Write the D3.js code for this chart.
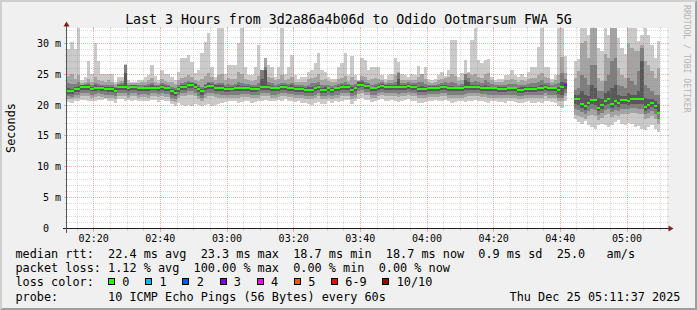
<!DOCTYPE html>
<html><head><meta charset="utf-8">
<script src="https://cdn.jsdelivr.net/npm/d3@7"></script>
<style>
html,body{margin:0;padding:0;background:#f0f0f0;}
svg{display:block;}
text{font-family:"DejaVu Sans Mono",monospace;white-space:pre;}
</style></head><body>
<svg id="c" width="697" height="310"></svg>
<script>
// ---- data (ms), one sample per minute starting 02:12 UTC ----
const median = [
22.2,22.2,22.6,22.6,22.9,22.9,22.9,22.6,22.8,22.8,
22.8,22.6,22.6,22.6,22.3,23.0,23.0,22.9,22.7,22.9,
22.9,22.7,22.7,22.7,22.7,22.8,22.8,22.8,22.9,22.8,
22.8,22.2,22.0,22.6,22.9,22.9,23.2,23.2,23.0,22.6,
22.2,22.9,23.1,23.1,22.8,22.8,22.8,22.6,22.6,22.6,
22.7,22.7,22.7,22.8,22.8,22.6,22.6,22.6,22.9,22.9,
22.9,22.7,22.7,22.7,22.9,23.0,22.8,22.8,22.6,22.6,
22.6,22.5,22.5,22.5,22.7,22.9,22.5,22.5,22.7,22.5,
22.7,22.7,22.9,22.9,22.9,22.5,22.7,23.3,23.3,23.1,
23.1,22.7,22.7,22.9,23.1,22.9,22.9,22.9,22.9,22.9,
22.9,22.9,23.1,22.9,22.9,22.6,22.6,22.6,22.8,22.8,
22.8,22.8,22.9,22.9,22.7,22.7,22.7,22.7,22.7,22.9,
22.9,22.9,22.9,22.9,22.8,22.8,22.7,22.7,22.7,22.6,
22.6,22.6,22.7,22.7,22.7,22.5,22.5,22.6,22.6,22.6,
22.6,22.7,22.7,22.9,22.7,22.7,22.7,22.5,22.9,23.2,
null,null,21.0,21.0,20.2,19.8,20.4,20.8,20.8,19.6,
20.0,20.7,20.9,20.2,20.7,20.3,20.8,20.8,20.7,20.9,
20.9,20.9,20.9,19.7,20.0,20.3,19.9,18.7,null,null];

const lossPings = [
0,0,0,0,0,0,0,0,0,0, 0,0,0,0,0,0,0,0,0,0, 0,0,0,0,0,0,0,0,0,0,
0,0,0,0,0,0,0,0,0,0, 0,0,0,0,0,0,0,0,0,0, 0,0,0,0,0,0,0,0,0,0,
0,0,0,0,0,0,0,0,0,0, 0,0,0,0,0,0,0,0,0,0, 0,0,0,0,0,0,0,0,0,0,
0,0,0,0,0,0,0,0,0,0, 0,0,0,0,0,0,0,0,0,0, 0,0,0,0,0,0,0,0,0,0,
0,0,0,0,0,0,0,0,0,0, 0,0,0,0,0,0,0,0,0,0, 0,0,0,0,0,0,0,0,0,3,
10,10,0,0,0,0,0,0,0,0, 0,0,0,0,0,0,0,0,0,0, 0,0,0,0,0,0,0,0,null,null];

// smoke: outermost pings (p1/p10)
const hi1 = [
29.0,30.2,29.0,32.7,24.1,24.6,27.1,25.0,30.0,27.1,
25.0,25.1,25.1,25.1,23.8,24.5,24.5,26.6,24.1,23.8,
23.8,24.1,24.0,24.5,24.9,26.5,24.7,24.1,25.7,25.0,
25.1,24.5,24.1,25.4,27.7,27.7,28.1,27.0,25.2,25.7,
28.5,30.2,31.7,26.2,24.6,32.7,32.7,25.1,26.5,26.5,
26.5,30.0,32.7,26.2,24.9,24.9,26.2,29.7,24.6,27.6,
26.5,26.2,24.6,26.2,32.7,25.1,26.2,28.1,24.9,24.3,
24.6,24.6,25.4,25.7,26.8,28.4,25.7,25.4,24.6,24.3,
24.2,26.2,26.8,28.4,24.9,27.9,24.9,24.1,27.6,27.3,
25.7,26.2,26.2,26.2,24.9,24.3,24.9,25.1,27.6,27.0,
25.1,24.9,24.6,25.0,24.9,26.3,24.9,26.2,24.3,24.1,
24.3,24.9,25.4,24.7,25.7,30.6,30.6,24.6,25.2,27.3,
25.4,30.5,32.7,27.3,26.8,27.3,27.4,24.6,24.1,24.3,
24.3,24.9,24.9,25.7,24.9,24.5,25.0,24.6,25.4,26.2,
26.2,29.4,32.7,26.2,26.2,24.3,24.9,32.7,32.7,27.9,
null,null,27.1,27.4,32.7,32.7,31.4,32.7,32.7,29.2,
28.7,32.7,31.4,32.7,32.7,30.8,29.2,28.2,32.7,32.7,
32.7,30.3,31.4,32.7,31.4,29.8,27.6,30.3,null,null];
const lo1 = [
20.5,20.4,20.6,20.7,20.8,20.8,20.6,20.6,20.7,20.8,
20.8,20.9,20.6,20.7,20.4,20.9,20.9,20.7,20.8,20.7,
20.8,20.6,20.7,20.7,20.6,20.8,20.8,20.5,20.8,20.7,
20.6,20.1,19.9,20.4,20.0,19.9,20.0,19.9,20.2,20.0,
19.8,20.0,20.1,19.9,20.0,20.2,20.4,20.5,20.6,20.7,
20.6,20.4,20.5,20.7,20.6,20.4,20.5,20.6,20.6,20.8,
20.7,20.6,20.6,20.8,20.7,20.9,20.7,20.6,20.5,20.6,
20.4,20.3,20.1,20.0,20.3,20.5,20.1,20.2,20.6,20.4,
20.6,20.5,20.7,20.8,20.8,20.2,20.6,21.0,21.1,20.8,
20.8,20.5,20.6,20.8,20.9,20.7,20.6,20.8,20.7,20.5,
20.7,20.8,20.9,20.7,20.6,20.3,20.4,20.5,20.7,20.7,
20.8,20.6,20.7,20.8,20.6,20.4,20.5,20.7,20.6,20.5,
20.7,20.6,20.8,20.7,20.6,20.5,20.4,20.6,20.7,20.5,
20.5,20.4,20.6,20.6,20.5,20.3,20.4,20.5,20.6,20.4,
20.4,20.5,20.3,20.7,20.6,20.5,20.3,19.8,19.6,20.7,
null,null,17.7,17.2,17.0,17.4,16.8,16.4,16.2,16.7,
17.0,16.8,16.5,16.7,17.2,17.6,17.0,16.7,17.1,16.9,
16.4,16.6,16.2,16.0,16.5,16.7,16.2,15.6,null,null];

// p2/p9
const hi2 = [
24.7,25.0,24.2,24.8,23.6,23.8,24.2,23.8,24.5,24.1,
23.9,23.8,24.0,23.8,23.4,23.8,23.9,26.5,23.6,23.5,
23.5,23.6,23.7,23.8,24.0,24.4,23.8,23.6,24.2,23.9,
23.8,23.7,23.4,24.0,24.4,24.6,24.8,24.5,24.1,23.9,
24.2,24.7,25.2,24.5,24.1,24.8,25.0,24.0,24.4,24.2,
24.3,25.4,25.0,24.2,24.0,23.9,24.1,24.7,24.2,27.6,
24.6,24.4,24.0,24.2,24.8,24.1,24.2,24.6,23.8,23.7,
23.8,23.7,24.2,24.4,24.6,25.0,24.1,24.2,23.9,23.7,
23.8,24.2,24.4,24.7,23.9,24.5,24.1,23.9,24.7,24.6,
24.1,24.2,24.4,24.2,24.0,23.8,24.0,24.1,24.8,25.4,
24.0,24.0,24.0,24.1,24.0,24.5,25.0,24.2,23.7,23.6,
23.7,24.0,24.2,24.4,24.6,25.0,24.7,23.9,24.1,24.6,
25.2,24.8,25.1,24.5,24.4,25.0,25.2,24.0,23.7,23.8,
23.8,24.0,24.0,24.2,24.0,23.8,24.0,23.9,24.2,24.4,
24.4,24.8,25.2,24.5,24.4,23.8,24.0,24.8,27.8,25.2,
null,null,24.4,25.5,30.0,30.3,27.6,32.7,32.7,24.4,
23.9,28.2,27.6,32.7,32.7,26.0,24.9,24.4,30.0,29.2,
28.7,28.7,29.8,27.1,26.5,25.5,24.4,26.0,null,null];
const lo2 = [
21.0,20.9,21.1,21.2,21.4,21.5,21.4,21.2,21.3,21.4,
21.3,21.2,21.1,21.1,20.9,21.4,21.5,21.4,21.2,21.4,
21.4,21.2,21.3,21.3,21.2,21.4,21.4,21.3,21.4,21.3,
21.3,20.7,20.5,21.1,21.4,21.4,21.7,21.7,21.5,21.0,
20.7,21.2,21.5,21.5,21.3,21.2,21.2,21.1,21.1,21.2,
21.2,21.2,21.3,21.3,21.3,21.1,21.1,21.2,21.4,21.4,
21.4,21.2,21.2,21.3,21.4,21.5,21.3,21.3,21.1,21.1,
21.1,21.0,21.0,21.0,21.2,21.4,21.0,21.0,21.2,21.0,
21.2,21.2,21.4,21.4,21.4,21.0,21.2,21.8,21.9,21.6,
21.6,21.2,21.2,21.4,21.6,21.4,21.4,21.4,21.4,21.3,
21.4,21.4,21.6,21.4,21.4,21.1,21.1,21.1,21.3,21.3,
21.3,21.3,21.4,21.4,21.2,21.2,21.2,21.2,21.2,21.3,
21.4,21.4,21.4,21.4,21.3,21.3,21.2,21.2,21.2,21.1,
21.1,21.1,21.2,21.2,21.2,21.0,21.0,21.1,21.1,21.1,
21.1,21.2,21.2,21.4,21.2,21.2,21.1,20.6,20.6,21.4,
null,null,18.4,18.2,18.0,17.7,18.2,18.4,18.2,17.6,
17.9,18.4,18.6,18.1,18.4,18.2,18.6,18.6,18.5,18.7,
18.7,18.6,18.5,17.7,17.9,18.2,17.8,17.0,null,null];

// p3/p8
const hi3 = [
23.6,23.4,23.4,23.7,23.3,23.4,23.5,23.2,23.5,23.4,
23.3,23.2,23.3,23.2,23.0,23.4,23.5,26.5,23.2,23.3,
23.3,23.2,23.2,23.3,23.4,23.6,23.3,23.3,23.6,23.4,
23.3,23.0,22.8,23.2,23.5,23.7,23.9,23.8,23.6,23.3,
23.0,23.4,23.8,23.7,23.4,23.5,23.6,23.3,23.4,23.3,
23.4,23.8,23.6,23.4,23.4,23.2,23.3,23.5,25.7,26.2,
23.8,23.5,23.3,23.4,23.6,23.5,23.4,23.5,23.2,23.2,
23.2,23.1,23.3,23.5,23.5,23.7,23.2,23.3,23.3,23.1,
23.3,23.4,23.5,23.7,23.4,23.3,23.4,23.9,24.0,23.8,
23.6,23.3,23.4,23.5,23.7,23.4,23.5,23.5,23.8,25.2,
23.5,23.5,23.7,23.5,23.5,23.7,23.8,23.4,23.3,23.3,
23.3,23.4,23.6,23.7,23.6,23.8,23.6,23.3,23.4,25.0,
24.4,23.7,23.9,23.7,23.5,24.0,23.8,23.4,23.3,23.3,
23.2,23.3,23.4,23.4,23.4,23.2,23.3,23.3,23.4,23.5,
23.5,23.7,24.0,23.6,23.5,23.3,23.4,23.6,25.2,24.2,
null,null,22.5,22.8,24.9,24.4,23.3,26.5,26.5,22.2,
22.2,23.9,24.9,27.1,27.6,23.3,23.1,22.8,24.4,23.9,
23.3,25.5,29.2,23.3,22.8,22.2,21.7,21.7,null,null];
const lo3 = [
21.4,21.3,21.6,21.7,21.9,22.0,21.9,21.7,21.8,21.9,
21.8,21.7,21.6,21.6,21.4,22.0,22.0,21.9,21.7,21.9,
21.9,21.7,21.8,21.8,21.7,21.9,21.9,21.8,21.9,21.8,
21.8,21.2,21.0,21.6,21.9,22.0,22.2,22.2,22.0,21.5,
21.2,21.8,22.0,22.0,21.8,21.8,21.7,21.6,21.6,21.7,
21.7,21.7,21.8,21.8,21.8,21.6,21.6,21.7,21.9,21.9,
21.9,21.7,21.7,21.8,21.9,22.0,21.8,21.8,21.6,21.6,
21.6,21.5,21.5,21.5,21.7,21.9,21.5,21.5,21.7,21.5,
21.7,21.7,21.9,21.9,21.9,21.5,21.7,22.3,22.4,22.1,
22.1,21.7,21.7,21.9,22.1,21.9,21.9,21.9,21.9,21.8,
21.9,21.9,22.1,21.9,21.9,21.6,21.6,21.6,21.8,21.8,
21.8,21.8,21.9,21.9,21.7,21.7,21.7,21.7,21.7,21.8,
21.9,21.9,21.9,21.9,21.8,21.8,21.7,21.7,21.7,21.6,
21.6,21.6,21.7,21.7,21.7,21.5,21.5,21.6,21.6,21.6,
21.6,21.7,21.7,21.9,21.7,21.7,21.6,21.2,21.2,22.0,
null,null,19.3,19.2,18.8,18.5,19.0,19.3,19.2,18.4,
18.7,19.2,19.4,18.9,19.2,19.0,19.4,19.4,19.3,19.5,
19.5,19.4,19.3,18.5,18.7,19.0,18.6,17.8,null,null];

// p4/p7
const hi4 = [
22.7,22.6,23.0,23.1,23.2,23.2,23.2,23.0,23.2,23.1,
23.1,23.0,23.0,22.9,22.7,23.3,23.3,25.2,23.0,23.2,
23.2,23.0,23.0,23.1,23.1,23.2,23.1,23.1,23.3,23.1,
23.1,22.6,22.4,22.9,23.2,23.3,23.6,23.6,23.4,23.0,
22.6,23.2,23.5,23.4,23.2,23.2,23.2,23.0,23.0,23.0,
23.1,23.2,23.1,23.1,23.1,22.9,23.0,23.0,24.2,25.7,
23.3,23.1,23.0,23.1,23.2,23.3,23.1,23.2,22.9,22.9,
22.9,22.8,22.9,23.0,23.1,23.3,22.8,22.9,23.0,22.8,
23.0,23.1,23.2,23.3,23.2,22.9,23.1,23.7,23.7,23.4,
23.4,23.0,23.1,23.2,23.4,23.2,23.2,23.3,23.3,24.2,
23.2,23.2,23.4,23.2,23.2,23.0,23.1,23.0,23.1,23.1,
23.1,23.1,23.2,23.3,23.1,23.1,23.0,23.0,23.1,24.0,
23.7,23.2,23.3,23.2,23.1,23.2,23.1,23.0,23.0,22.9,
22.9,22.9,23.0,23.0,23.0,22.8,22.9,22.9,22.9,22.9,
22.9,23.1,23.2,23.2,23.1,23.0,23.0,23.0,23.8,23.6,
null,null,21.7,21.7,22.2,21.7,21.4,23.3,22.8,21.2,
20.9,22.0,22.2,22.8,23.3,21.7,21.4,21.4,22.0,21.7,
21.7,22.2,27.1,21.2,20.9,20.9,20.6,20.1,null,null];
const lo4 = [
21.8,21.8,22.1,22.1,22.4,22.5,22.4,22.2,22.3,22.4,
22.3,22.2,22.1,22.1,21.9,22.5,22.5,22.4,22.2,22.4,
22.4,22.2,22.3,22.3,22.2,22.4,22.4,22.3,22.4,22.3,
22.3,21.7,21.5,22.1,22.4,22.5,22.8,22.8,22.6,22.1,
21.7,22.4,22.6,22.6,22.3,22.3,22.3,22.1,22.1,22.2,
22.2,22.2,22.3,22.3,22.3,22.1,22.1,22.2,22.4,22.4,
22.4,22.2,22.2,22.3,22.4,22.5,22.3,22.3,22.1,22.1,
22.1,22.0,22.0,22.0,22.2,22.4,22.0,22.0,22.2,22.0,
22.2,22.2,22.4,22.4,22.4,22.0,22.2,22.8,22.9,22.6,
22.6,22.2,22.2,22.4,22.6,22.4,22.4,22.4,22.4,22.4,
22.4,22.4,22.6,22.4,22.4,22.1,22.1,22.1,22.3,22.3,
22.3,22.3,22.4,22.4,22.2,22.2,22.2,22.2,22.2,22.4,
22.4,22.4,22.4,22.4,22.3,22.3,22.2,22.2,22.2,22.1,
22.1,22.1,22.2,22.2,22.2,22.0,22.0,22.1,22.1,22.1,
22.1,22.2,22.2,22.4,22.2,22.2,22.2,21.8,21.7,22.6,
null,null,20.1,20.0,19.6,19.2,19.8,20.1,20.0,19.0,
19.4,20.0,20.2,19.6,20.0,19.7,20.1,20.1,20.0,20.2,
20.2,20.2,20.1,19.1,19.4,19.7,19.3,18.5,null,null];

const yTicks = [0,5,10,15,20,25,30];
const yTickLabels = ["0","5 m","10 m","15 m","20 m","25 m","30 m"];
const lossLabels = ["0","1","2","3","4","5","6-9","10/10"];
const lossColors = ["#26ff00","#00b8ff","#0059ff","#7e00ff","#ff00ff","#ff5500","#ff0000","#a10000"];
const titleText = "Last 3 Hours from 3d2a86a4b06d to Odido Ootmarsum FWA 5G";
const legendRtt = "median rtt:  22.4 ms avg  23.3 ms max  18.7 ms min  18.7 ms now  0.9 ms sd  25.0   am/s";
const legendLoss = "packet loss: 1.12 % avg  100.00 % max  0.00 % min  0.00 % now";
const legendProbe = "probe:       10 ICMP Echo Pings (56 Bytes) every 60s";
const stamp = "Thu Dec 25 05:11:37 2025";

// ---- drawing ----
const W=697,H=310, N=median.length;
const svg=d3.select("#c");
svg.append("rect").attr("width",W).attr("height",H).attr("fill","#f0f0f0");
svg.append("path").attr("d","M0,0H697L695,2H2V308L0,310Z").attr("fill","#cfcfcf");
svg.append("path").attr("d","M697,0V310H0L2,308H695V2Z").attr("fill","#9e9e9e");

const X0=67,X1=667,YB=228.5,YT=28.5;
const t0=Date.UTC(2025,11,25,2,12,0);
const tAt=i=>new Date(t0+i*60000);
const x=d3.scaleUtc().domain([tAt(0),tAt(180)]).range([X0,X1]);
const y=d3.scaleLinear().domain([0,32.4]).range([YB,YT]);

svg.append("rect").attr("x",X0).attr("y",28).attr("width",X1-X0).attr("height",200.5).attr("fill","#fff");
svg.append("clipPath").attr("id","cp").append("rect").attr("x",X0).attr("y",28).attr("width",X1-X0).attr("height",200.5);
const plot=svg.append("g").attr("clip-path","url(#cp)");

function stepPts(lo,hi){
  const pts=[];
  for(let i=0;i<N;i++){
    const ok=lo[i]!=null&&hi[i]!=null;
    pts.push({t:i,lo:lo[i],hi:hi[i],ok});
    if(ok&&(i===N-1||lo[i+1]==null)) pts.push({t:i+1,lo:lo[i],hi:hi[i],ok:true});
  }
  return pts;
}
const area=d3.area().defined(d=>d.ok).curve(d3.curveStepAfter)
  .x(d=>x(tAt(d.t))).y0(d=>y(d.lo)).y1(d=>y(d.hi));
[[lo1,hi1,"#cacaca"],[lo2,hi2,"#a4a4a4"],[lo3,hi3,"#7e7e7e"],[lo4,hi4,"#585858"]].forEach(([lo,hi,c])=>{
  plot.append("path").attr("d",area(stepPts(lo,hi))).attr("fill",c).attr("shape-rendering","crispEdges");
});
function lossIdx(l){ if(l<=5) return l; if(l<10) return 6; return 7; }
plot.selectAll("rect.med").data(d3.range(N).filter(i=>median[i]!=null)).join("rect")
  .attr("class","med")
  .attr("x",i=>x(tAt(i))).attr("width",i=>x(tAt(i+1))-x(tAt(i)))
  .attr("y",i=>y(median[i])-1).attr("height",2)
  .attr("fill",i=>lossColors[lossIdx(lossPings[i])]).attr("shape-rendering","crispEdges");

// grid (on top, like rrdtool)
const grid=svg.append("g").attr("shape-rendering","crispEdges");
const GC="rgba(143,143,143,0.33)", MC="rgba(222,79,79,0.45)";
const snap=v=>Math.floor(v)+0.5;
const minorT=x.ticks(d3.utcMinute.every(5)).filter(d=>d.getUTCMinutes()%20!==0);
const majorT=x.ticks(d3.utcMinute.every(20));
minorT.forEach(d=>{const xx=snap(x(d));
  grid.append("line").attr("x1",xx).attr("x2",xx).attr("y1",YT).attr("y2",YB).attr("stroke",GC).attr("stroke-dasharray","1,1");
  grid.append("line").attr("x1",xx).attr("x2",xx).attr("y1",YB).attr("y2",YB+2).attr("stroke",GC);
  grid.append("line").attr("x1",xx).attr("x2",xx).attr("y1",YT-2).attr("y2",YT).attr("stroke",GC);
});
majorT.forEach(d=>{const xx=snap(x(d));
  grid.append("line").attr("x1",xx).attr("x2",xx).attr("y1",YT).attr("y2",YB).attr("stroke",MC).attr("stroke-dasharray","1,1");
  grid.append("line").attr("x1",xx).attr("x2",xx).attr("y1",YB).attr("y2",YB+3).attr("stroke",MC);
  grid.append("line").attr("x1",xx).attr("x2",xx).attr("y1",YT-2).attr("y2",YT).attr("stroke",MC);
});
d3.range(1,33).filter(v=>v%5!==0).forEach(v=>{const yy=snap(y(v));
  grid.append("line").attr("x1",X0).attr("x2",X1).attr("y1",yy).attr("y2",yy).attr("stroke",GC).attr("stroke-dasharray","1,1");
  grid.append("line").attr("x1",X0-2).attr("x2",X0).attr("y1",yy).attr("y2",yy).attr("stroke",GC);
  grid.append("line").attr("x1",X1).attr("x2",X1+2).attr("y1",yy).attr("y2",yy).attr("stroke",GC);
});
yTicks.filter(v=>v>0).forEach(v=>{const yy=snap(y(v));
  grid.append("line").attr("x1",X0).attr("x2",X1).attr("y1",yy).attr("y2",yy).attr("stroke",MC).attr("stroke-dasharray","1,1");
  grid.append("line").attr("x1",X0-3).attr("x2",X0).attr("y1",yy).attr("y2",yy).attr("stroke",MC);
  grid.append("line").attr("x1",X1).attr("x2",X1+2).attr("y1",yy).attr("y2",yy).attr("stroke",MC);
});

// axes
const AX="#1f1f1f";
svg.append("line").attr("x1",X0-4.5).attr("x2",X1+3.5).attr("y1",YB).attr("y2",YB).attr("stroke",AX).attr("shape-rendering","crispEdges");
svg.append("line").attr("x1",X0-0.5).attr("x2",X0-0.5).attr("y1",YB+4).attr("y2",YT-4).attr("stroke","#555").attr("shape-rendering","crispEdges");
svg.append("path").attr("d",`M${X1+1.5},${YB-3}L${X1+1.5},${YB+3}L${X1+6.5},${YB}Z`).attr("fill","#801f1f");
svg.append("path").attr("d",`M${X0-3.5},${YT-2}L${X0+2.5},${YT-2}L${X0-0.5},${YT-7}Z`).attr("fill","#801f1f");

// axis labels
svg.append("g").selectAll("text").data(majorT).join("text")
  .attr("x",d=>x(d)).attr("y",241.5).attr("text-anchor","middle").attr("font-size","10px").attr("fill","#000")
  .text(d=>d3.utcFormat("%H:%M")(d));
const cw10=6.02;
svg.append("g").selectAll("text").data(yTicks).join("text")
  .attr("x",(d,i)=>yTickLabels[i].length===1?61-2*cw10:61).attr("y",d=>snap(y(d))+3.5)
  .attr("text-anchor","end").attr("font-size","10px").attr("fill","#000")
  .text((d,i)=>yTickLabels[i]);

svg.append("text").attr("transform","translate(14.5,128) rotate(-90)").attr("text-anchor","middle")
  .attr("font-size","11.83px").attr("fill","#000").text("Seconds");
svg.append("text").attr("x",348.5).attr("y",24).attr("text-anchor","middle")
  .attr("font-size","13.26px").attr("fill","#000").text(titleText);
svg.append("text").attr("transform","translate(684,5) rotate(90)")
  .attr("font-size","8.15px").attr("fill","#b4b4b4").text("RRDTOOL / TOBI OETIKER");

// legend
const LF="11.83px", cw=7.12, LX=15.5;
const rows=[258,272.2,286.4,300.6];
svg.append("text").attr("x",LX).attr("y",rows[0]).attr("font-size",LF).text(legendRtt);
svg.append("text").attr("x",LX).attr("y",rows[1]).attr("font-size",LF).text(legendLoss);
svg.append("text").attr("x",LX).attr("y",rows[2]).attr("font-size",LF).text("loss color:");
let cx=LX+13*cw;
lossLabels.forEach((lab,i)=>{
  svg.append("rect").attr("x",Math.round(cx)+0.5).attr("y",rows[2]-8).attr("width",6).attr("height",6)
    .attr("fill",lossColors[i]).attr("stroke","#000").attr("stroke-width",1).attr("shape-rendering","crispEdges");
  svg.append("text").attr("x",cx+2*cw).attr("y",rows[2]).attr("font-size",LF).text(lab);
  cx+=(4.22+lab.length)*cw;
});
svg.append("text").attr("x",LX).attr("y",rows[3]).attr("font-size",LF).text(legendProbe);
svg.append("text").attr("x",680.5).attr("y",rows[3]).attr("text-anchor","end").attr("font-size",LF).text(stamp);
</script>
</body></html>
